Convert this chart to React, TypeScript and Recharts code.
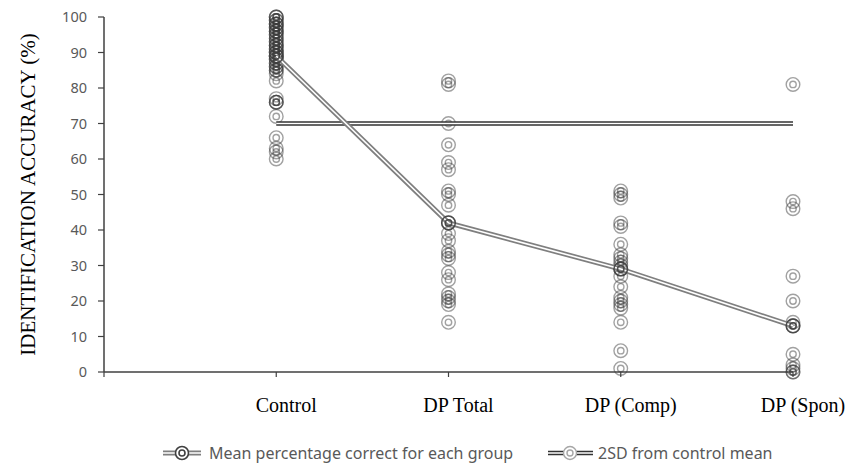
import React from 'react';
import { ScatterChart, Scatter, XAxis, YAxis, Legend } from 'recharts';

const categories = ['Control', 'DP Total', 'DP (Comp)', 'DP (Spon)'];
const controlScores = [100, 100, 100, 99, 99, 98, 98, 98, 97, 97, 96, 96, 96, 95, 95, 94, 94, 93, 93, 92, 92, 92, 91, 91, 90, 90, 90, 89, 89, 88, 88, 87, 87, 86, 86, 85, 85, 84, 82, 77, 76, 76, 76, 72, 66, 63, 62, 60];
const dpTotalScores = [82, 81, 70, 64, 59, 57, 51, 50, 47, 42, 39, 37, 34, 33, 32, 28, 26, 22, 21, 20, 19, 14];
const dpCompScores = [51, 50, 49, 42, 41, 36, 33, 32, 31, 30, 29, 27, 24, 21, 20, 19, 18, 14, 6, 1];
const dpSponScores = [81, 48, 46, 27, 20, 14, 13, 5, 2, 1, 0, 0];
const groupMeans = [89, 42, 29, 13];
const cutoffValue = 70;
const yTicks = [0, 10, 20, 30, 40, 50, 60, 70, 80, 90, 100];
const xTicks = [0, 1, 2, 3, 4];
const legendLabels = ['Mean percentage correct for each group', '2SD from control mean'];

const individualData = [controlScores, dpTotalScores, dpCompScores, dpSponScores].flatMap((vals, i) =>
  vals.map((y) => ({ x: i + 1, y }))
);
const meanData = groupMeans.map((y, i) => ({ x: i + 1, y }));
const cutoffData = [
  { x: 1, y: cutoffValue },
  { x: categories.length, y: cutoffValue },
];

const Ring = ({ cx, cy, stroke, opacity = 1, width = 1.4 }: any) => (
  <g>
    <circle cx={cx} cy={cy} r={6.8} fill="none" stroke={stroke} strokeOpacity={opacity} strokeWidth={width} />
    <circle cx={cx} cy={cy} r={3.2} fill="none" stroke={stroke} strokeOpacity={opacity} strokeWidth={width} />
  </g>
);

const Empty = () => <g />;

const XTick = ({ x, y, payload }: any) => {
  const idx = payload.value;
  const label = idx >= 1 ? categories[idx - 1] : '';
  return (
    <text x={x + 10} y={y} dy="0.71em" textAnchor="middle" fill="#000" fontSize={20} fontFamily="'Liberation Serif', serif">
      {label}
    </text>
  );
};

const YLabel = ({ viewBox }: any) => {
  const cx = viewBox.x + 28;
  const cy = viewBox.y + viewBox.height / 2;
  return (
    <text
      x={cx}
      y={cy}
      transform={`rotate(-90 ${cx} ${cy})`}
      textAnchor="middle"
      dominantBaseline="central"
      fill="#000"
      fontSize={21}
      fontFamily="'Liberation Serif', serif"
    >
      IDENTIFICATION ACCURACY (%)
    </text>
  );
};

const LegendContent = () => (
  <div style={{ position: 'relative', width: 848, height: 26, fontFamily: "'Noto Sans', sans-serif", fontSize: 16, color: '#595959' }}>
    <svg style={{ position: 'absolute', left: 163, top: 0 }} width={38} height={26}>
      <line x1={0} y1={13} x2={38} y2={13} stroke="#7f7f7f" strokeWidth={5} />
      <line x1={0} y1={13} x2={38} y2={13} stroke="#fff" strokeWidth={1.6} />
      <circle cx={19} cy={13} r={6.5} fill="#fff" stroke="#404040" strokeWidth={1.6} />
      <circle cx={19} cy={13} r={3} fill="none" stroke="#404040" strokeWidth={1.6} />
    </svg>
    <span style={{ position: 'absolute', left: 209, top: 0, lineHeight: '26px', whiteSpace: 'nowrap' }}>{legendLabels[0]}</span>
    <svg style={{ position: 'absolute', left: 548, top: 0 }} width={45} height={26}>
      <line x1={0} y1={13} x2={45} y2={13} stroke="#333" strokeWidth={4.5} />
      <line x1={0} y1={13} x2={45} y2={13} stroke="#fff" strokeWidth={1.4} />
      <circle cx={22} cy={13} r={6.5} fill="#fff" stroke="#a6a6a6" strokeWidth={1.4} />
      <circle cx={22} cy={13} r={3} fill="none" stroke="#a6a6a6" strokeWidth={1.4} />
    </svg>
    <span style={{ position: 'absolute', left: 598, top: 0, lineHeight: '26px', whiteSpace: 'nowrap' }}>{legendLabels[1]}</span>
  </div>
);

export default function App() {
  return (
    <div style={{ position: 'absolute', left: 0, top: 0, background: '#fff' }}>
      <ScatterChart width={848} height={465} margin={{ top: 17, right: 55, left: 0, bottom: 53 }}>
        <XAxis
          type="number"
          dataKey="x"
          domain={[0, 4]}
          ticks={xTicks}
          interval={0}
          height={40}
          axisLine={{ stroke: '#404040', strokeWidth: 1.5 }}
          tickLine={{ stroke: '#404040', strokeWidth: 1.2 }}
          tickSize={5}
          tickMargin={21}
          tick={<XTick />}
        />
        <YAxis
          type="number"
          dataKey="y"
          domain={[0, 100]}
          ticks={yTicks}
          interval={0}
          width={104}
          axisLine={{ stroke: '#404040', strokeWidth: 1.5 }}
          tickLine={{ stroke: '#404040', strokeWidth: 1.2 }}
          tickSize={6}
          tickMargin={11}
          tick={{ fill: '#595959', fontSize: 14.5, fontFamily: "'Noto Sans', sans-serif" }}
          label={<YLabel />}
        />
        <Scatter
          data={individualData}
          isAnimationActive={false}
          shape={(p: any) => <Ring cx={p.cx} cy={p.cy} stroke="#3a3a3a" opacity={0.48} />}
        />
        <Scatter
          data={cutoffData}
          isAnimationActive={false}
          line={{ stroke: '#333', strokeWidth: 4.5 }}
          lineType="joint"
          shape={Empty}
        />
        <Scatter
          data={cutoffData}
          isAnimationActive={false}
          line={{ stroke: '#fff', strokeWidth: 1.4 }}
          lineType="joint"
          shape={Empty}
        />
        <Scatter
          data={meanData}
          isAnimationActive={false}
          line={{ stroke: '#7f7f7f', strokeWidth: 5 }}
          lineType="joint"
          shape={Empty}
        />
        <Scatter
          data={meanData}
          isAnimationActive={false}
          line={{ stroke: '#fff', strokeWidth: 1.6 }}
          lineType="joint"
          shape={(p: any) => <Ring cx={p.cx} cy={p.cy} stroke="#404040" opacity={0.9} width={1.5} />}
        />
        <Legend
          layout="horizontal"
          verticalAlign="middle"
          align="center"
          wrapperStyle={{ top: 440, left: 0, width: 848, height: 26 }}
          content={<LegendContent />}
        />
      </ScatterChart>
    </div>
  );
}
